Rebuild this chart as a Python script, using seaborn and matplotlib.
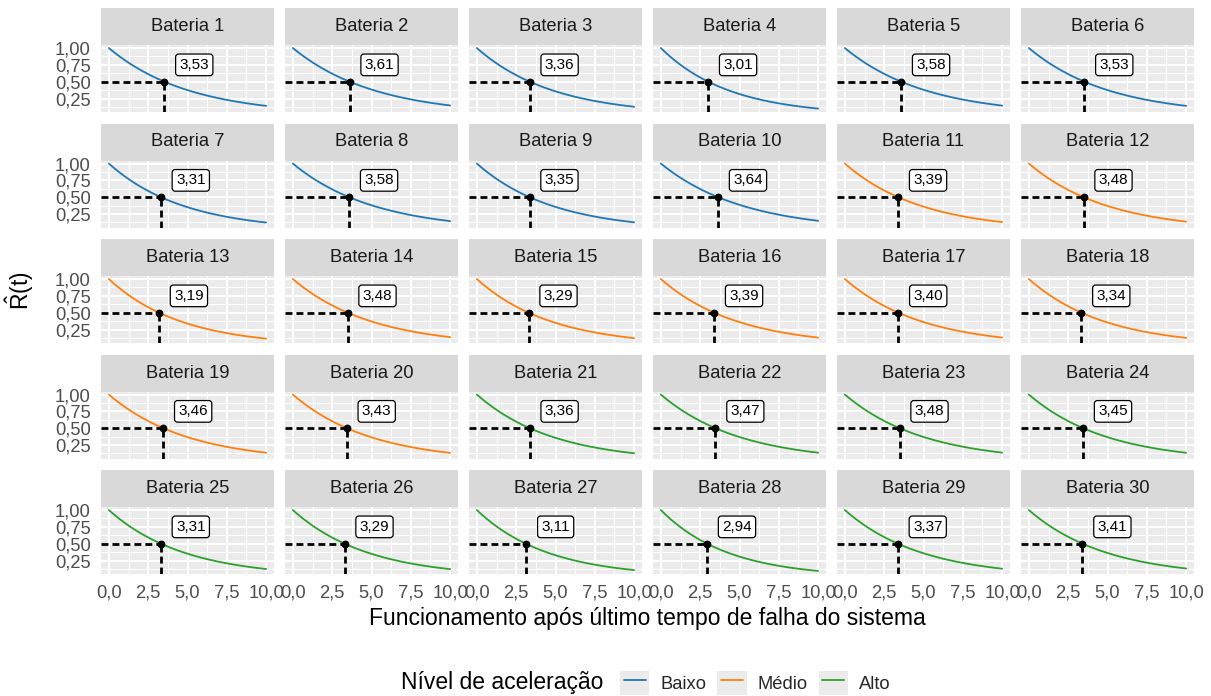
import numpy as np
import pandas as pd
import matplotlib
matplotlib.use("Agg")
import matplotlib.pyplot as plt
import seaborn as sns
from matplotlib.patches import Rectangle
from matplotlib.ticker import MultipleLocator, FixedLocator, FuncFormatter
from matplotlib.legend_handler import HandlerLine2D
from matplotlib.lines import Line2D

# ---------------- data ----------------
baterias = [f"Bateria {i}" for i in range(1, 31)]
medianas = [3.53, 3.61, 3.36, 3.01, 3.58, 3.53,
            3.31, 3.58, 3.35, 3.64, 3.39, 3.48,
            3.19, 3.48, 3.29, 3.39, 3.40, 3.34,
            3.46, 3.43, 3.36, 3.47, 3.48, 3.45,
            3.31, 3.29, 3.11, 2.94, 3.37, 3.41]
niveis = ["Baixo"] * 10 + ["Médio"] * 10 + ["Alto"] * 10
niveis_ordem = ["Baixo", "Médio", "Alto"]
cores = ["#1F77B4", "#FF7F0E", "#2CA02C"]
tempo = np.linspace(0, 10, 201)
x_ticks = [0, 2.5, 5, 7.5, 10]
y_ticks = [0.25, 0.50, 0.75, 1.00]

# estimated reliability curve (exponential model through each median)
linhas = []
for b, m, n in zip(baterias, medianas, niveis):
    linhas.append(pd.DataFrame({"t": tempo, "R": 0.5 ** (tempo / m),
                                "Bateria": b, "Nível": n}))
df = pd.concat(linhas, ignore_index=True)

# ---------------- style ----------------
sns.set_theme(style="darkgrid")
plt.rcParams["font.family"] = ["Liberation Sans", "DejaVu Sans"]
plt.rcParams["mathtext.fontset"] = "custom"
plt.rcParams["mathtext.rm"] = "Liberation Sans"
plt.rcParams["mathtext.it"] = "Liberation Sans"

W, H = 1211, 696
g = sns.relplot(data=df, x="t", y="R", col="Bateria", col_order=baterias,
                col_wrap=6, hue="Nível", hue_order=niveis_ordem,
                palette=dict(zip(niveis_ordem, cores)), kind="line",
                legend=False, errorbar=None, linewidth=1.3,
                height=1.2, aspect=1.5,
                facet_kws=dict(sharex=True, sharey=True))
fig = g.figure
fig.set_size_inches(W / 100, H / 100)
fig.set_dpi(100)

panel_w, panel_h, strip_h = 173, 67, 37
fig.subplots_adjust(left=101 / W, right=1194 / W, top=1 - 45 / H,
                    bottom=1 - 574 / H, wspace=11 / panel_w,
                    hspace=48.5 / panel_h)

ylo_d, yhi_d = df["R"].min(), df["R"].max()
pad = 0.05 * (yhi_d - ylo_d)
ylim = (ylo_d - pad, yhi_d + pad)
xlim = (-0.5, 10.5)

fmt_x = FuncFormatter(lambda v, p: f"{v:.1f}".replace(".", ","))
fmt_y = FuncFormatter(lambda v, p: f"{v:.2f}".replace(".", ","))
dash = (0, (2.5, 1.45))

ncol = 6
for i, (ax, nome, m) in enumerate(zip(g.axes.flat, baterias, medianas)):
    ax.set_title("")
    ax.set_xlabel("")
    ax.set_ylabel("")
    ax.set_facecolor("#EBEBEB")
    for s in ax.spines.values():
        s.set_visible(False)
    ax.xaxis.set_major_locator(FixedLocator(x_ticks))
    ax.xaxis.set_minor_locator(MultipleLocator(1.25))
    ax.yaxis.set_major_locator(FixedLocator(y_ticks))
    ax.yaxis.set_minor_locator(MultipleLocator(0.125))
    ax.xaxis.set_major_formatter(fmt_x)
    ax.yaxis.set_major_formatter(fmt_y)
    ax.grid(True, which="major", color="white", lw=1.5)
    ax.grid(True, which="minor", color="white", lw=0.75)
    ax.set_axisbelow(True)
    ax.tick_params(which="minor", length=0)
    ax.tick_params(which="major", length=4, width=1.5, color="#333333",
                   labelcolor="#4D4D4D", labelsize=13.2, pad=3.3)
    row, col = divmod(i, ncol)
    if row < 4:
        ax.tick_params(axis="x", which="major", length=0, labelbottom=False)
    else:
        ax.tick_params(axis="x", which="major", labelbottom=True)
    if col > 0:
        ax.tick_params(axis="y", which="major", length=0, labelleft=False)
    else:
        ax.tick_params(axis="y", which="major", labelleft=True)

    ax.plot([xlim[0], m], [0.5, 0.5], ls=dash, color="black", lw=2, zorder=3)
    ax.plot([m, m], [ylim[0], 0.5], ls=dash, color="black", lw=2, zorder=3)
    ax.plot([m], [0.5], "o", color="black", ms=4.6, zorder=4)
    ax.text(m + 1.9, 0.75, f"{m:.2f}".replace(".", ","), ha="center",
            va="center", fontsize=11, color="black", zorder=5,
            bbox=dict(boxstyle="round,pad=0.25,rounding_size=0.2",
                      fc="white", ec="black", lw=0.9))

    # strip
    sh = strip_h / panel_h
    ax.add_patch(Rectangle((0, 1), 1, sh, transform=ax.transAxes,
                           facecolor="#D9D9D9", edgecolor="none",
                           clip_on=False, zorder=1))
    ax.text(0.5, 1 + sh / 2, nome, transform=ax.transAxes, ha="center",
            va="center", fontsize=13.2, color="#1A1A1A")
    ax.set_xlim(*xlim)
    ax.set_ylim(*ylim)

# axis titles
fig.text((101 + 1194) / 2 / W, 1 - 618 / H,
         "Funcionamento após último tempo de falha do sistema",
         ha="center", va="center", fontsize=16.5, color="black")
fig.text(20 / W, 1 - 291 / H, r"$\hat{\mathrm{R}}\mathrm{(t)}$",
         rotation=90, ha="center", va="center", fontsize=16.5, color="black")


# legend
class KeyHandler(HandlerLine2D):
    def create_artists(self, legend, orig_handle, xdescent, ydescent,
                       width, height, fontsize, trans):
        arts = super().create_artists(legend, orig_handle, xdescent, ydescent,
                                      width, height, fontsize, trans)
        rect = Rectangle((-xdescent, -ydescent), width, height,
                         facecolor="#EBEBEB", edgecolor="none", transform=trans)
        return [rect] + list(arts)


handles = [Line2D([], [], color=c, lw=1.3) for c in cores]
fig.legend(handles, niveis_ordem, loc="center left",
           bbox_to_anchor=(620 / W, 13 / H), ncol=3, frameon=False,
           handlelength=1.6, handleheight=1.6, handletextpad=0.6,
           columnspacing=0.6, fontsize=13.2, numpoints=2,
           handler_map={Line2D: KeyHandler(marker_pad=0.2)},
           borderpad=0, borderaxespad=0)
fig.text(401 / W, 13 / H, "Nível de aceleração", ha="left", va="center",
         fontsize=16.5, color="black")

fig.savefig("out.png", dpi=100)
